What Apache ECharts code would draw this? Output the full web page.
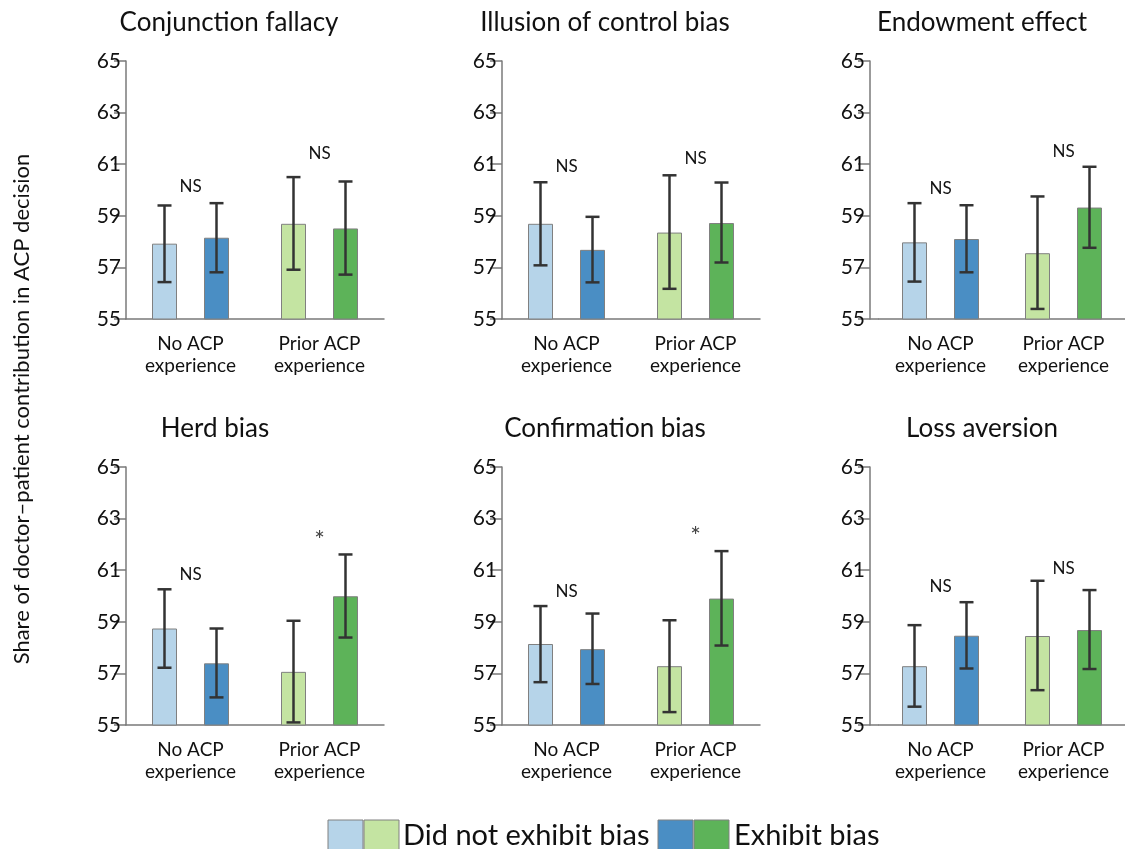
<!DOCTYPE html>
<html>
<head>
<meta charset="utf-8">
<script src="https://cdn.jsdelivr.net/npm/echarts@6/dist/echarts.min.js"></script>
<style>
html,body{margin:0;padding:0;background:#fff;}
#chart{width:1125px;height:849px;}
</style>
</head>
<body>
<div id="chart"></div>
<script>
// ---------- DATA ----------
const categories = ['No ACP\nexperience', 'Prior ACP\nexperience'];
const panelTitles = ['Conjunction fallacy', 'Illusion of control bias', 'Endowment effect',
                     'Herd bias', 'Confirmation bias', 'Loss aversion'];
const yTickMin = 55, yTickMax = 65, yTickStep = 2;
const legendNames = ['Did not exhibit bias', 'Exhibit bias'];
const yAxisTitle = 'Share of doctor\u2013patient contribution in ACP decision';

// mean values [No ACP, Prior ACP]
const notBiasMean = [
  [57.92, 58.69],
  [58.69, 58.35],
  [57.97, 57.55],
  [58.74, 57.06],
  [58.14, 57.28],
  [57.28, 58.45]
];
const exhibitMean = [
  [58.15, 58.51],
  [57.68, 58.72],
  [58.10, 59.32],
  [57.39, 59.99],
  [57.94, 59.90],
  [58.46, 58.68]
];
// error bars [[low, high] No ACP, [low, high] Prior ACP]
const notBiasErr = [
  [[56.43, 59.40], [56.91, 60.50]],
  [[57.08, 60.30], [56.17, 60.57]],
  [[56.45, 59.49], [55.39, 59.75]],
  [[57.22, 60.26], [55.10, 59.04]],
  [[56.66, 59.61], [55.50, 59.06]],
  [[55.71, 58.87], [56.35, 60.59]]
];
const exhibitErr = [
  [[56.81, 59.49], [56.72, 60.33]],
  [[56.42, 58.96], [57.19, 60.29]],
  [[56.81, 59.41], [57.76, 60.90]],
  [[56.07, 58.74], [58.39, 61.61]],
  [[56.59, 59.32], [58.08, 61.74]],
  [[57.19, 59.76], [57.17, 60.23]]
];
// significance labels and their heights [No ACP, Prior ACP]
const sigLabels = [
  ['NS', 'NS'], ['NS', 'NS'], ['NS', 'NS'],
  ['NS', '*'], ['NS', '*'], ['NS', 'NS']
];
const sigHeights = [
  [60.14, 61.43], [60.91, 61.23], [60.07, 61.49],
  [60.85, 62.42], [60.16, 62.55], [60.35, 61.06]
];

// ---------- STYLE / LAYOUT ----------
const FONT = 'Lato, "Open Sans", sans-serif';
const notColors = ['#b6d4e9', '#c4e4a2'];
const exhColors = ['#4a8ec4', '#5db359'];
const AXIS_COLOR = '#7a7a7a';
const TEXT_COLOR = '#111';
const BAR_W = 25;
const BAR_GAP = 1.08; // fraction of bar width
const BAR_OFFSET = (BAR_W + BAR_W * BAR_GAP) / 2;
const colLeft = [126, 502, 879];
const colYOffset = [0, 0, 9];
const rowTop = [61, 467];
const GRID_W = 258, GRID_H = 258;
const titleX = [[229, 605, 982], [215, 605, 982]];
const titleY = [23, 429];

const grids = [], xAxes = [], yAxes = [], series = [], graphics = [];

for (let p = 0; p < 6; p++) {
  const row = Math.floor(p / 3), col = p % 3;
  grids.push({left: colLeft[col], top: rowTop[row], width: GRID_W, height: GRID_H, containLabel: false});
  xAxes.push({
    type: 'category', gridIndex: p, data: categories,
    axisLine: {lineStyle: {color: AXIS_COLOR, width: 1.5}},
    axisTick: {alignWithLabel: true, length: 10, lineStyle: {color: AXIS_COLOR, width: 1.5}},
    axisLabel: {fontFamily: FONT, fontSize: 19, lineHeight: 22, color: TEXT_COLOR, margin: 14}
  });
  yAxes.push({
    type: 'value', gridIndex: p, min: yTickMin, max: yTickMax, interval: yTickStep,
    offset: colYOffset[col],
    axisLine: {show: true, lineStyle: {color: AXIS_COLOR, width: 1.5}},
    axisTick: {show: true, length: 12, lineStyle: {color: AXIS_COLOR, width: 1.5}},
    splitLine: {show: false},
    axisLabel: {fontFamily: FONT, fontSize: 21, color: TEXT_COLOR, margin: 5}
  });
  series.push({
    type: 'bar', name: legendNames[0], xAxisIndex: p, yAxisIndex: p,
    barWidth: BAR_W, barGap: (BAR_GAP * 100) + '%',
    data: notBiasMean[p].map((v, i) => ({value: v, itemStyle: {color: notColors[i]}})),
    itemStyle: {borderColor: '#808080', borderWidth: 1},
    silent: true
  });
  series.push({
    type: 'bar', name: legendNames[1], xAxisIndex: p, yAxisIndex: p,
    barWidth: BAR_W, barGap: (BAR_GAP * 100) + '%',
    data: exhibitMean[p].map((v, i) => ({value: v, itemStyle: {color: exhColors[i]}})),
    itemStyle: {borderColor: '#808080', borderWidth: 1},
    silent: true
  });
  const errData = [];
  for (let i = 0; i < 2; i++) {
    errData.push([i, notBiasErr[p][i][0], notBiasErr[p][i][1], 0]);
    errData.push([i, exhibitErr[p][i][0], exhibitErr[p][i][1], 1]);
  }
  series.push({
    type: 'custom', xAxisIndex: p, yAxisIndex: p, z: 10, clip: false, silent: true,
    data: errData,
    renderItem: function (params, api) {
      const c = api.value(0), lo = api.value(1), hi = api.value(2), g = api.value(3);
      const pLo = api.coord([c, lo]), pHi = api.coord([c, hi]);
      const x = pLo[0] + (g ? 1 : -1) * BAR_OFFSET;
      const st = {stroke: '#333', lineWidth: 2.5};
      const cap = 7;
      return {type: 'group', children: [
        {type: 'line', shape: {x1: x, y1: pLo[1], x2: x, y2: pHi[1]}, style: st},
        {type: 'line', shape: {x1: x - cap, y1: pLo[1], x2: x + cap, y2: pLo[1]}, style: st},
        {type: 'line', shape: {x1: x - cap, y1: pHi[1], x2: x + cap, y2: pHi[1]}, style: st}
      ]};
    }
  });
  const pan = p;
  series.push({
    type: 'custom', xAxisIndex: p, yAxisIndex: p, z: 11, clip: false, silent: true,
    data: sigHeights[p].map((h, i) => [i, h]),
    renderItem: function (params, api) {
      const pt = api.coord([api.value(0), api.value(1)]);
      const lbl = sigLabels[pan][params.dataIndex];
      const star = lbl === '*';
      return {type: 'text', x: pt[0], y: pt[1] + (star ? 7 : 0),
        style: {text: lbl, fontFamily: FONT, fontSize: star ? 25 : 17, fill: star ? '#444' : TEXT_COLOR,
                align: 'center', verticalAlign: 'middle'}};
    }
  });
  graphics.push({type: 'text', x: titleX[row][col], y: titleY[row],
    style: {text: panelTitles[p], fontFamily: FONT, fontSize: 26, fill: TEXT_COLOR,
            align: 'center', verticalAlign: 'middle'}});
}

// x axis line extension for the 3rd column (y-axis offset)
for (let r = 0; r < 2; r++) {
  const y = rowTop[r] + GRID_H;
  graphics.push({type: 'line', shape: {x1: colLeft[2] - colYOffset[2], y1: y, x2: colLeft[2], y2: y},
    style: {stroke: AXIS_COLOR, lineWidth: 1.5}});
}

// shared y axis title
graphics.push({type: 'text', x: 22, y: 409, rotation: Math.PI / 2,
  style: {text: yAxisTitle, fontFamily: FONT, fontSize: 22, fill: TEXT_COLOR,
          align: 'center', verticalAlign: 'middle'}});

// legend
const legY = 820, legH = 34, legW = 35;
[[328, notColors[0]], [364, notColors[1]], [658, exhColors[0]], [694, exhColors[1]]].forEach(function (s) {
  graphics.push({type: 'rect', shape: {x: s[0], y: legY, width: legW, height: legH},
    style: {fill: s[1], stroke: '#808080', lineWidth: 1}});
});
graphics.push({type: 'text', x: 403, y: 836,
  style: {text: legendNames[0], fontFamily: FONT, fontSize: 29, fill: TEXT_COLOR, align: 'left', verticalAlign: 'middle'}});
graphics.push({type: 'text', x: 734, y: 836,
  style: {text: legendNames[1], fontFamily: FONT, fontSize: 29, fill: TEXT_COLOR, align: 'left', verticalAlign: 'middle'}});

const chart = echarts.init(document.getElementById('chart'), null, {renderer: 'canvas'});
chart.setOption({
  animation: false,
  grid: grids,
  xAxis: xAxes,
  yAxis: yAxes,
  series: series,
  graphic: graphics
});
</script>
</body>
</html>
